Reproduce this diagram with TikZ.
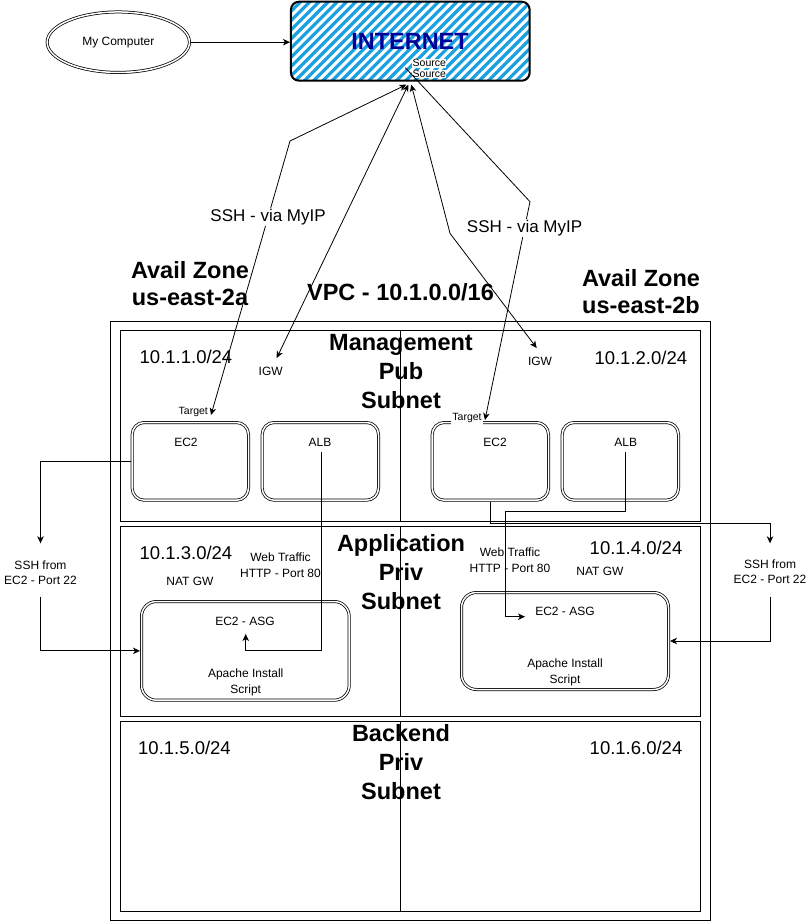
\documentclass[tikz,border=0pt]{standalone}
\usepackage{fontspec}
\setmainfont{Liberation Sans}
\usetikzlibrary{arrows.meta,calc,shapes.geometric}
\definecolor{stripe}{RGB}{27,161,226}
\definecolor{inetblue}{RGB}{0,0,153}
\newcommand{\myfs}[2]{\fontsize{#1}{#2}\selectfont}
\tikzset{
  box/.style={draw, line width=1pt, inner sep=0pt, outer sep=0pt},
  dbox/.style={draw, double, double distance=1.5pt, line width=0.75pt, rounded corners=12pt,
    minimum width=116.3pt, minimum height=77.7pt, inner sep=0pt, outer sep=1.5pt},
  asgbox/.style={dbox, rounded corners=15pt},
  txt/.style={inner sep=0pt, align=center},
  t12/.style={txt, font={\myfs{12}{15.5}}},
  tsm/.style={txt, font={\myfs{10.5}{12}}},
  tip/.style={txt, font={\myfs{18.5}{22}}},
  tsh/.style={txt, font={\myfs{17}{20}}},
  hd/.style={txt, font={\bfseries\myfs{23.5}{29}}},
  hdz/.style={txt, font={\bfseries\myfs{23.5}{27}}},
  lbl/.style={tsh, fill=white, inner sep=1pt},
  arr/.style={-{Stealth[length=7pt,width=6.5pt,inset=2pt]}, line width=0.8pt},
  arrb/.style={{Stealth[length=7pt,width=6.5pt,inset=2pt]}-{Stealth[length=7pt,width=6.5pt,inset=2pt]}, line width=0.8pt},
}
\begin{document}
\begin{tikzpicture}[x=1pt,y=-1pt]
\useasboundingbox (0,0) rectangle (810,922);

% ---- VPC and subnets
\node[box, minimum width=600.7pt, minimum height=599.5pt] (vpc) at (410.35,620.75) {};
\node[box, minimum width=580pt, minimum height=190.3pt] (mgmt) at (410.7,425.85) {};
\node[box, minimum width=580pt, minimum height=190.7pt] (app) at (410.7,621.35) {};
\node[box, minimum width=580pt, minimum height=189.7pt] (back) at (410.7,816.15) {};
\draw[line width=1pt] ([xshift=-10pt]mgmt.north) -- ([xshift=-10pt]mgmt.south);
\draw[line width=1pt] ([xshift=-10pt]app.north) -- ([xshift=-10pt]app.south);
\draw[line width=1pt] ([xshift=-10pt]back.north) -- ([xshift=-10pt]back.south);

% ---- headings
\node[hdz] (azA) at (190,284) {Avail Zone\\us-east-2a};
\node[hdz] (azB) at (641,292) {Avail Zone\\us-east-2b};
\node[hd] (vpcT) at (400.5,292) {VPC - 10.1.0.0/16};
\node[hd] (mgmtT) at (401,372) {Management\\Pub\\Subnet};
\node[hd] (appT) at (401,572.5) {Application\\Priv\\Subnet};
\node[hd] (backT) at (401,762) {Backend\\Priv\\Subnet};

% ---- CIDR labels
\node[tip] (c1) at (186,357.3) {10.1.1.0/24};
\node[tip] (c2) at (640.8,357.7) {10.1.2.0/24};
\node[tip] (c3) at (186,553.3) {10.1.3.0/24};
\node[tip] (c4) at (636,548.3) {10.1.4.0/24};
\node[tip] (c5) at (184.5,747.5) {10.1.5.0/24};
\node[tip] (c6) at (636,747.5) {10.1.6.0/24};

% ---- top: computer and internet
\node[draw, ellipse, double, double distance=1.5pt, line width=0.75pt,
  minimum width=142.3pt, minimum height=60.5pt, inner sep=0pt, outer sep=1.5pt,
  font={\myfs{12}{14}}] (pc) at (118.3,42.2) {My Computer};
\node[minimum width=238.7pt, minimum height=79pt, inner sep=0pt, outer sep=0pt] (inet) at (410.3,41.2) {};
\begin{scope}
  \clip[rounded corners=8pt] (inet.south west) rectangle (inet.north east);
  \foreach \k in {0,...,36} {
    \draw[stripe, line width=3.2pt] ({200+9.2*\k},84) -- ({286+9.2*\k},-2);
  }
\end{scope}
\draw[line width=2pt, rounded corners=8pt] (inet.south west) rectangle (inet.north east);
\node[txt, font={\bfseries\myfs{23.5}{27}}, text=inetblue] (inetT) at (410,41.7) {INTERNET};
\node[tsm, fill=white, inner sep=0.5pt] (srcA) at (429.3,63.3) {Source};
\node[tsm, fill=white, inner sep=0.5pt] (srcB) at (429.3,74) {Source};
\draw[arr] (pc.east) -- ([xshift=-1pt]pc.east -| inet.west);

% ---- public subnet boxes
\node[dbox] (ec2L) at (190.35,461.35) {};
\node[dbox] (albL) at (320.35,461.35) {};
\node[dbox] (ec2R) at (490.35,461.35) {};
\node[dbox] (albR) at (620.35,461.35) {};
\node[t12] (ec2Lt) at (186,442) {EC2};
\node[t12] (albLt) at (320,442) {ALB};
\node[t12] (ec2Rt) at (495,442) {EC2};
\node[t12] (albRt) at (625.7,442) {ALB};
\node[t12] (igwL) at (270.7,371.7) {IGW};
\node[t12] (igwR) at (540,361.7) {IGW};
\node[tsm] (tgtL) at (193.3,412.3) {Target};
\node[tsm, fill=white, inner sep=1.5pt] (tgtR) at (467,418.3) {Target};

% ---- application subnet boxes
\node[asgbox, minimum width=207.7pt, minimum height=98.7pt] (asgL) at (245.35,650.85) {};
\node[asgbox, minimum width=207pt, minimum height=97pt] (asgR) at (565,641) {};
\node[t12] (asgLt) at (245,621.7) {EC2 - ASG};
\node[t12] (asgRt) at (565,611.7) {EC2 - ASG};
\node[t12] (apL) at (245.7,682.5) {Apache Install\\Script};
\node[t12] (apR) at (565,672.5) {Apache Install\\Script};
\node[t12] (natL) at (190,581.7) {NAT GW};
\node[t12] (natR) at (600,571.7) {NAT GW};
\node[t12] (webL) at (280.5,565.3) {Web Traffic\\HTTP - Port 80};
\node[t12] (webR) at (510,560.2) {Web Traffic\\HTTP - Port 80};

% ---- internet connectors
\coordinate (wpL) at (290,141);
\coordinate (wpI) at (450,233.3);
\coordinate (wpR) at (530,201.7);
\draw[arrb] ($(inet.south)+(-4,4)$) -- (wpL) -- node[lbl, pos=0.277] (sshA) {SSH - via MyIP} ($(tgtL)+(17.7,2.7)$);
\draw[arrb] ($(inet.south)+(-2,4)$) -- ($(igwL)+(6,-13.7)$);
\draw[arrb] ($(inet.south)+(1,4)$) -- (wpI) -- ($(igwR)+(-3.3,-13.7)$);
\draw[arr] ($(inet.south)+(-5,-13)$) -- (wpR) -- node[lbl, pos=0.12] (sshB) {SSH - via MyIP} ($(tgtR)+(18,1.7)$);

% ---- SSH from EC2
\node[t12] (sshL) at (40.5,572.5) {SSH from\\EC2 - Port 22};
\node[t12] (sshR) at (770,571.7) {SSH from\\EC2 - Port 22};
\draw[arr] (ec2L.west) -| ($(sshL)+(0,-29.2)$);
\draw[arr] ($(sshL)+(0,24.2)$) |- (asgL.west);
\draw[arr] (ec2R.south) |- ($(sshR)+(0,-48.4)$) -- ($(sshR)+(0,-28.4)$);
\draw[arr] ($(sshR)+(0,25)$) |- (asgR.east);

% ---- web traffic
\draw[arr] ($(albLt)+(1,9.7)$) -- ++(0,199) -| ($(asgLt)+(0.7,12.3)$);
\draw[arr] ($(albRt)+(0,9.7)$) -- ++(0,60) -| ($(asgRt)+(-59.3,5)$) -- ($(asgRt)+(-40,5)$);
\end{tikzpicture}
\end{document}
